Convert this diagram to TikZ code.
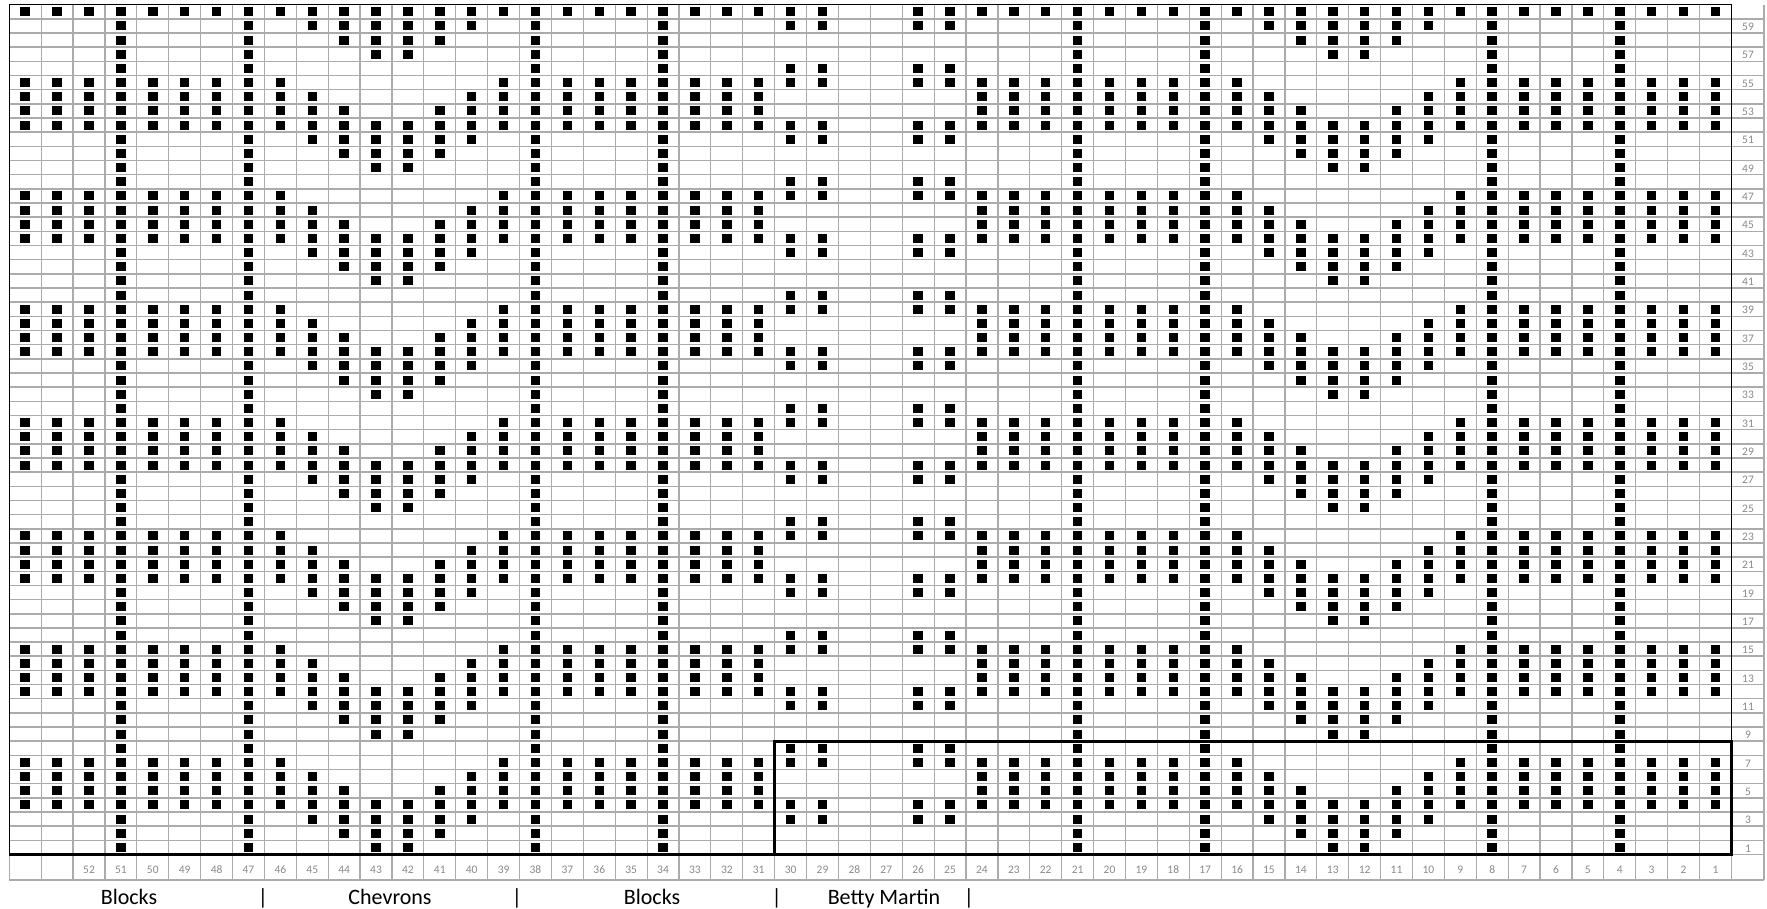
\documentclass[tikz,border=0pt]{standalone}
\usepackage{fontspec}
\setmainfont{Carlito}
\definecolor{gridgray}{HTML}{ABABAB}
\definecolor{numgray}{HTML}{8A8A8A}
\begin{document}
\begin{tikzpicture}[x=1pt,y=-1pt,
  gridh/.style={draw=gridgray,line width=1.5pt},
  gridv/.style={draw=gridgray,line width=1.2pt},
  border/.style={draw=black,line width=1.6pt},
  thickbox/.style={draw=black,line width=3pt},
  stitch/.style={fill=black},
  numlab/.style={font=\fontsize{11.5}{13}\selectfont,text=numgray,inner sep=0pt,anchor=base},
  seclab/.style={font=\fontsize{22}{26}\selectfont,text=black,inner sep=0pt,anchor=base}]
\useasboundingbox (0,0) rectangle (1767,909);
\fill[white] (0,0) rectangle (1767,909);
\def\XO{9.3}
\def\W{31.89}
\def\YO{4.7}
\def\H{14.164}
\def\XR{1731.4}
\def\YB{854.5}
% grid lines
\foreach \j in {1,...,59} {
  \draw[gridh] (\XO,{\YO+\j*\H}) -- (1764,{\YO+\j*\H});
}
\foreach \i in {1,...,53} {
  \draw[gridv] ({\XO+\i*\W},\YO) -- ({\XO+\i*\W},880);
}
\draw[gridv] (1764,\YO) -- (1764,880);
\draw[gridv] (\XR,\YB) -- (\XR,880);
\draw[gridv] (\XO,\YB) -- (\XO,880);
\draw[gridh] (\XR,\YB) -- (1764,\YB);
\draw[gridh] (\XO,880) -- (1764,880);
% stitches
\foreach \p/\lst in {
  1/{51,47,43,42,38,34,21,17,13,12,8,4},
  2/{51,47,44,43,42,41,38,34,21,17,14,13,12,11,8,4},
  3/{51,47,45,44,43,42,41,40,38,34,30,29,26,25,21,17,15,14,13,12,11,10,8,4},
  4/{54,53,52,51,50,49,48,47,46,45,44,43,42,41,40,39,38,37,36,35,34,33,32,31,30,29,26,25,24,23,22,21,20,19,18,17,16,15,14,13,12,11,10,9,8,7,6,5,4,3,2,1},
  5/{54,53,52,51,50,49,48,47,46,45,44,41,40,39,38,37,36,35,34,33,32,31,24,23,22,21,20,19,18,17,16,15,14,11,10,9,8,7,6,5,4,3,2,1},
  6/{54,53,52,51,50,49,48,47,46,45,40,39,38,37,36,35,34,33,32,31,24,23,22,21,20,19,18,17,16,15,10,9,8,7,6,5,4,3,2,1},
  7/{54,53,52,51,50,49,48,47,46,39,38,37,36,35,34,33,32,31,30,29,26,25,24,23,22,21,20,19,18,17,16,9,8,7,6,5,4,3,2,1},
  8/{51,47,38,34,30,29,26,25,21,17,8,4}} {
  \foreach \m in {0,...,7} {
    \pgfmathtruncatemacro\r{\p+8*\m}
    \ifnum\r<61
      \foreach \k in \lst {
        \fill[stitch] ({\XO+(54-\k+0.5)*\W-4.75},{\YO+(60-\r+0.5)*\H-4.5}) rectangle ++(9.5,9);
      }
    \fi
  }
}
% borders
\draw[border] (\XO,\YB) -- (\XO,\YO) -- (\XR,\YO) -- (\XR,\YB);
\draw[draw=black,line width=2.2pt] (\XO,\YB) -- (\XR,\YB);
\draw[thickbox] ({\XO+24*\W},{\YO+52*\H}) rectangle (\XR,\YB);
% row numbers
\foreach \r in {1,3,...,59} {
  \node[numlab] (rl\r) at (1748,{\YO+(61-\r)*\H-2.5}) {\r};
}
% column numbers
\foreach \k in {1,...,52} {
  \node[numlab] (cl\k) at ({\XO+(54-\k+0.5)*\W},873.5) {\k};
}
% section labels
\node[seclab] (blocksA) at (129,904) {Blocks};
\node[seclab] (barA) at (263,904) {|};
\node[seclab] (chevrons) at (390,904) {Chevrons};
\node[seclab] (barB) at (517,904) {|};
\node[seclab] (blocksB) at (652,904) {Blocks};
\node[seclab] (barC) at (776.7,904) {|};
\node[seclab] (betty) at (884,904) {Betty Martin};
\node[seclab] (barD) at (969,904) {|};
\end{tikzpicture}
\end{document}
